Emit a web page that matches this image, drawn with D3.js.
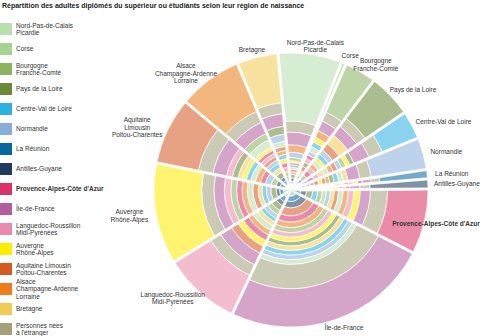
<!DOCTYPE html>
<html><head><meta charset="utf-8">
<script src="https://cdn.jsdelivr.net/npm/d3@7"></script>
<style>body{margin:0;background:#fff}svg{display:block;font-family:"Liberation Sans",Arial,sans-serif}</style>
</head><body>
<svg id="c" width="480" height="336"></svg>
<script>
const title = "Répartition des adultes diplômés du supérieur ou étudiants selon leur région de naissance";
// birth regions (rings) — same order as legend
const legendLabels = ["Nord-Pas-de-Calais\nPicardie","Corse","Bourgogne\nFranche-Comté","Pays de la Loire","Centre-Val de Loire","Normandie","La Réunion","Antilles-Guyane","Provence-Alpes-Côte d'Azur","Île-de-France","Languedoc-Roussillon\nMidi-Pyrénées","Auvergne\nRhône-Alpes","Aquitaine Limousin\nPoitou-Charentes","Alsace\nChampagne-Ardenne\nLorraine","Bretagne","Personnes nées\nà l'étranger"];
const chartLabels = ["Nord-Pas-de-Calais\nPicardie","Corse","Bourgogne\nFranche-Comté","Pays de la Loire","Centre-Val de Loire","Normandie","La Réunion","Antilles-Guyane","Provence-Alpes-Côte d'Azur","Île-de-France","Languedoc-Roussillon\nMidi-Pyrénées","Auvergne\nRhône-Alpes","Aquitaine\nLimousin\nPoitou-Charentes","Alsace\nChampagne-Ardenne\nLorraine","Bretagne"];
const colors = ["#b7dfb0","#a6d38f","#8db360","#6a8a35","#2eb0e0","#8aaedc","#08679e","#1e3a5c","#dc3068","#b25e9e","#e98aaa","#ffec00","#d45a22","#ec7d1a","#f2cb55","#a3a07a"];
// residence regions (sectors): graduates, thousands
const residents = [812,61,404,557,362,409,118,127,829,2641,988,1293,853,811,526];
// share (%) of each birth region within each residence region
// columns: NPC, Corse, Bourg, PdlL, Centre, Norm, Réun, Antil, Prov, IdF, Lang, Auv, Aquit, Alsace, Bret, Étranger
const sharesNPC   = [75,0.1,1.1,0.5,0.6,2.0,0.3,0.4,0.6,7.0,0.5,0.6,0.5,3.3,0.5,7.5];
const sharesCorse = [0.8,55,0.6,0.5,0.5,0.6,0.3,0.4,14,7,2.5,2,1,1.2,0.8,11];
const sharesBourg = [2.5,0.2,59,1.3,2.5,1.6,0.5,0.6,1.5,7.5,1.4,3,1.2,4.5,1.1,8];
const sharesPdlL  = [1.5,0.1,1.0,55,2.0,2.5,0.4,0.5,1.2,8.5,1.3,1.6,4.5,1.4,7.0,9];
const sharesCentre= [2,0.1,2.5,3,45,2.4,0.5,1,1.5,12.5,1.6,2.6,2.2,2.1,1.9,13];
const sharesNorm  = [2.5,0.1,1,2,2.1,63,0.4,0.6,1.1,8,0.9,1.2,1.3,1.5,2.6,9];
const sharesReun  = [2.4,0.3,1.5,2,1.4,1.9,58,0.5,3.5,7,3,3.1,2.9,2.5,2.6,8];
const sharesAntil = [1.5,0.3,1,1.2,1.1,1.3,0.8,67,2,7,2.1,1.9,2.2,1.6,1.4,8];
const sharesProv  = [2.5,1.5,1.4,1.2,1.3,1.6,0.5,0.8,50,8,3.5,4.5,2,3,1.7,16];
const sharesIdF   = [3.6,0.2,2.1,2.4,3.0,3.2,0.5,1.0,1.9,47,2.2,2.3,1.8,2.0,2.8,22];
const sharesLang  = [2.5,0.4,1.3,1.2,1.4,1.3,0.6,0.7,3.5,10.5,52,4,5.5,2.5,1.6,11];
const sharesAuv   = [2.5,0.3,3.5,1,1.2,1.1,0.4,0.5,3,8,4.5,58,2,2.6,1.3,11];
const sharesAquit = [2,0.2,1,3.5,2.1,1.5,0.5,0.6,1.6,11,4,2.2,53,1.9,2.5,14];
const sharesAlsace= [4,0.2,4.2,1,1.2,1.3,0.4,0.5,1.5,8.5,1.4,1.6,1.3,59,1.1,10];
const sharesBret  = [2.5,0.1,0.8,5,1.5,4,0.4,0.5,1.2,9.4,1,1.3,1.8,1.6,58,9.6];
const shares = [sharesNPC,sharesCorse,sharesBourg,sharesPdlL,sharesCentre,sharesNorm,sharesReun,sharesAntil,sharesProv,sharesIdF,sharesLang,sharesAuv,sharesAquit,sharesAlsace,sharesBret];
const highlighted = 8;

const svg = d3.select("#c");
const cx = 291, cy = 190, R = 137;
const startDeg = -5.5;

svg.append("text").attr("x",2).attr("y",8).attr("font-size",7).attr("font-weight","bold")
  .attr("fill","#222").text(title);

// legend
const lg = svg.append("g");
legendLabels.forEach((lab,i)=>{
  const y0 = 23 + i*20;
  lg.append("rect").attr("x",0).attr("y",y0).attr("width",12).attr("height",12).attr("fill",colors[i]);
  const lines = lab.split("\n");
  const t = lg.append("text").attr("font-size",6.5).attr("fill","#333")
    .attr("font-weight", i===highlighted?"bold":"normal");
  lines.forEach((ln,k)=>{
    t.append("tspan").attr("x",16).attr("y", y0+6 + (k-(lines.length-1)/2)*7.4 + 2.3).text(ln);
  });
});

const r = d3.scaleSqrt().domain([0,100]).range([0,R]);
const a0 = startDeg*Math.PI/180;
const pie = d3.pie().sort(null).startAngle(a0).endAngle(a0+2*Math.PI);
const sectors = pie(residents);
const padW = 2.2;

const g = svg.append("g").attr("transform",`translate(${cx},${cy})`);
sectors.forEach((s,i)=>{
  const row = shares[i];
  const tot = d3.sum(row);
  const order = d3.range(row.length).sort((a,b)=>row[a]-row[b]);
  let cum = 0;
  const segs = order.map(j=>{
    const v = row[j]/tot*100;
    const seg = {j, r0:r(cum), r1:r(cum+v)};
    cum += v;
    return seg;
  });
  const arc = d3.arc().startAngle(s.startAngle).endAngle(s.endAngle)
    .padAngle(padW/R).padRadius(R)
    .innerRadius(d=>d.r0).outerRadius(d=>d.r1);
  g.selectAll(null).data(segs).enter().append("path")
    .attr("d",arc).attr("fill",d=>colors[d.j]).attr("fill-opacity",0.56)
    .attr("stroke","#fff").attr("stroke-width",0.7);
});

// labels
const Rl = 145;
sectors.forEach((s,i)=>{
  const a = (s.startAngle+s.endAngle)/2;
  const px = cx + Rl*Math.sin(a), py = cy - Rl*Math.cos(a);
  const lines = chartLabels[i].split("\n");
  const t = svg.append("text").attr("font-size",6.5).attr("fill","#333").attr("text-anchor","middle")
    .attr("font-weight", i===highlighted?"bold":"normal");
  const lh = 7.4;
  lines.forEach((ln,k)=>t.append("tspan").attr("x",0).attr("y",(k-(lines.length-1)/2)*lh + 2.3).text(ln));
  const w = t.node().getBBox().width;
  let x = px + Math.sin(a)*w/2;
  x = Math.max(w/2+1, Math.min(480-w/2, x));
  t.attr("transform",`translate(${x},${py})`);
});
</script>
</body></html>
